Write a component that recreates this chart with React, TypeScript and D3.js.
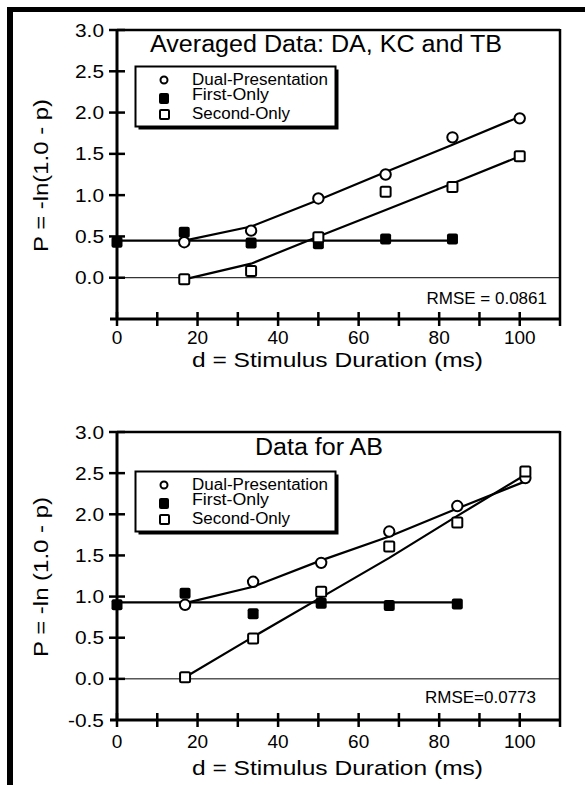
import React from "react";
import * as d3 from "d3";

// ---------- data ----------
const topDurations = [16.7, 33.3, 50, 66.7, 83.3, 100];
const topFirstDurations = [0, 16.7, 33.3, 50, 66.7, 83.3];
const topDual = [0.43, 0.57, 0.96, 1.25, 1.7, 1.93];
const topDualFit = [0.45, 0.62, 0.94, 1.28, 1.61, 1.95];
const topSecond = [-0.02, 0.08, 0.49, 1.04, 1.1, 1.47];
const topSecondFit = [-0.02, 0.17, 0.5, 0.82, 1.14, 1.47];
const topFirst = [0.43, 0.55, 0.42, 0.41, 0.47, 0.47];
const topFirstFit = [0.45, 0.45, 0.45, 0.45, 0.45, 0.45];

const botDurations = [16.9, 33.8, 50.7, 67.6, 84.5, 101.4];
const botFirstDurations = [0, 16.9, 33.8, 50.7, 67.6, 84.5];
const botDual = [0.9, 1.18, 1.41, 1.79, 2.1, 2.44];
const botDualFit = [0.92, 1.12, 1.44, 1.73, 2.07, 2.4];
const botSecond = [0.02, 0.49, 1.06, 1.61, 1.9, 2.52];
const botSecondFit = [0.02, 0.51, 0.99, 1.47, 1.98, 2.48];
const botFirst = [0.9, 1.04, 0.79, 0.92, 0.89, 0.91];
const botFirstFit = [0.93, 0.93, 0.93, 0.93, 0.93, 0.93];

const xMajorTicks = [0, 20, 40, 60, 80, 100];
const xMinorTicks = [10, 30, 50, 70, 90];
const yTicks = [-0.5, 0, 0.5, 1, 1.5, 2, 2.5, 3];
const legendLabels = ["Dual-Presentation", "First-Only", "Second-Only"];

const FONT = "'Liberation Sans', Arial, Helvetica, sans-serif";

type PanelProps = {
  top: number;
  bottom: number;
  title: string;
  titleX: number;
  titleDy: number;
  titleLen: number;
  yLabel: string;
  yLabelLen: number;
  rmse: string;
  rmseX: number;
  rmseDy: number;
  showMinusHalf: boolean;
  xTickDy: number;
  xLabelDy: number;
  legendTop: number;
  dur: number[];
  firstDur: number[];
  dual: number[];
  dualFit: number[];
  second: number[];
  secondFit: number[];
  first: number[];
  firstFit: number[];
};

function Panel(p: PanelProps) {
  const x = d3.scaleLinear().domain([0, 110]).range([117, 560]);
  const y = d3.scaleLinear().domain([-0.5, 3]).range([p.bottom, p.top]);
  const line = d3
    .line<[number, number]>()
    .x((d) => x(d[0]))
    .y((d) => y(d[1]));
  const zip = (a: number[], b: number[]) => a.map((v, i) => [v, b[i]] as [number, number]);
  const sq = 11;
  const lt = p.legendTop;
  return (
    <g>
      {/* zero line */}
      <line x1={x(0)} x2={x(110)} y1={y(0)} y2={y(0)} stroke="#000" strokeWidth={1} />
      {/* frame */}
      <line x1={x(0)} x2={x(110)} y1={p.top} y2={p.top} stroke="#000" strokeWidth={2.5} />
      <line x1={x(110)} x2={x(110)} y1={p.top - 1} y2={p.bottom + 7} stroke="#000" strokeWidth={2.5} />
      {/* axes */}
      <line x1={x(0)} x2={x(0)} y1={p.top - 1} y2={p.bottom + 1} stroke="#000" strokeWidth={3} />
      <line x1={110} x2={x(110)} y1={p.bottom} y2={p.bottom} stroke="#000" strokeWidth={3} />
      {yTicks.map((t) => (
        <g key={"yt" + t}>
          {t > -0.5 && (
            <line x1={109} x2={125} y1={y(t)} y2={y(t)} stroke="#000" strokeWidth={2.5} />
          )}
          {(t > -0.5 || p.showMinusHalf) && (
            <text
              x={104}
              y={y(t) + 6.5}
              textAnchor="end"
              fontSize={19}
              fontFamily={FONT}
              textLength={t < 0 ? 36 : 29}
              lengthAdjust="spacingAndGlyphs"
            >
              {t.toFixed(1)}
            </text>
          )}
        </g>
      ))}
      {[...xMajorTicks, ...xMinorTicks].map((t) => (
        <line key={"xt" + t} x1={x(t)} x2={x(t)} y1={p.bottom - 7} y2={p.bottom + 7} stroke="#000" strokeWidth={2.5} />
      ))}
      {xMajorTicks.map((t) => (
        <text key={"xl" + t} x={x(t)} y={p.bottom + p.xTickDy} textAnchor="middle" fontSize={19} fontFamily={FONT}>
          {t}
        </text>
      ))}
      {/* labels */}
      <text
        x={337.5}
        y={p.bottom + p.xLabelDy}
        textAnchor="middle"
        fontSize={21}
        fontFamily={FONT}
        textLength={291}
        lengthAdjust="spacingAndGlyphs"
      >
        d = Stimulus Duration (ms)
      </text>
      <text
        transform={`translate(48,${(p.top + p.bottom) / 2 + 1}) rotate(-90)`}
        textAnchor="middle"
        fontSize={19.5}
        fontFamily={FONT}
        textLength={p.yLabelLen}
        lengthAdjust="spacingAndGlyphs"
      >
        {p.yLabel}
      </text>
      <text
        x={p.titleX}
        y={p.top + p.titleDy}
        textAnchor="middle"
        fontSize={23}
        fontFamily={FONT}
        textLength={p.titleLen}
        lengthAdjust="spacingAndGlyphs"
      >
        {p.title}
      </text>
      <text x={p.rmseX} y={y(0) + p.rmseDy} textAnchor="end" fontSize={17} fontFamily={FONT}>
        {p.rmse}
      </text>
      {/* legend */}
      <rect x={138.5} y={lt + 3.5} width={200} height={60} fill="#000" />
      <rect x={135.5} y={lt + 0.5} width={200} height={60} fill="#fff" stroke="#000" strokeWidth={2} />
      <circle cx={164} cy={lt + 14} r={3.5} fill="#fff" stroke="#000" strokeWidth={2} />
      <rect x={159} y={lt + 27} width={10} height={11} rx={2} fill="#000" />
      <rect x={160} y={lt + 44} width={9} height={9} rx={1} fill="#fff" stroke="#000" strokeWidth={2} />
      {legendLabels.map((l, i) => (
        <text
          key={l}
          x={192}
          y={lt + [18.5, 34, 53][i]}
          fontSize={16}
          fontFamily={FONT}
          textLength={[136, 77, 98][i]}
          lengthAdjust="spacingAndGlyphs"
        >
          {l}
        </text>
      ))}
      {/* fit lines */}
      <path d={line(zip(p.firstDur, p.firstFit)) || ""} fill="none" stroke="#000" strokeWidth={2.2} />
      <path d={line(zip(p.dur, p.dualFit)) || ""} fill="none" stroke="#000" strokeWidth={2.2} />
      <path d={line(zip(p.dur, p.secondFit)) || ""} fill="none" stroke="#000" strokeWidth={2.2} />
      {/* markers */}
      {p.first.map((v, i) => (
        <rect key={"f" + i} x={x(p.firstDur[i]) - sq / 2} y={y(v) - sq / 2} width={sq} height={sq} rx={2} fill="#000" />
      ))}
      {p.dual.map((v, i) => (
        <circle key={"d" + i} cx={x(p.dur[i])} cy={y(v)} r={5.2} fill="#fff" stroke="#000" strokeWidth={2} />
      ))}
      {p.second.map((v, i) => (
        <rect
          key={"s" + i}
          x={x(p.dur[i]) - (sq - 1) / 2}
          y={y(v) - (sq - 1) / 2}
          width={sq - 1}
          height={sq - 1}
          rx={1.5}
          fill="#fff"
          stroke="#000"
          strokeWidth={2}
        />
      ))}
    </g>
  );
}

export default function App() {
  return (
    <svg
      width={585}
      height={785}
      style={{ position: "absolute", left: 0, top: 0, background: "#fff" }}
    >
      <rect x={0} y={0} width={585} height={785} fill="#fff" />
      {/* outer border */}
      <rect x={7} y={7} width={578} height={5} fill="#000" />
      <rect x={7} y={7} width={6} height={778} fill="#000" />
      <Panel
        top={30}
        bottom={319}
        title="Averaged Data: DA, KC and TB"
        titleX={326}
        titleDy={22}
        titleLen={352}
        yLabel="P = -ln(1.0 - p)"
        yLabelLen={153}
        rmse="RMSE = 0.0861"
        rmseX={547}
        rmseDy={26}
        showMinusHalf={false}
        xTickDy={25}
        xLabelDy={48}
        legendTop={66}
        dur={topDurations}
        firstDur={topFirstDurations}
        dual={topDual}
        dualFit={topDualFit}
        second={topSecond}
        secondFit={topSecondFit}
        first={topFirst}
        firstFit={topFirstFit}
      />
      <Panel
        top={432}
        bottom={720}
        title="Data for AB"
        titleX={319}
        titleDy={23}
        titleLen={128}
        yLabel="P = -ln (1.0 - p)"
        yLabelLen={160}
        rmse="RMSE=0.0773"
        rmseX={536}
        rmseDy={24}
        showMinusHalf={true}
        xTickDy={28}
        xLabelDy={55}
        legendTop={471}
        dur={botDurations}
        firstDur={botFirstDurations}
        dual={botDual}
        dualFit={botDualFit}
        second={botSecond}
        secondFit={botSecondFit}
        first={botFirst}
        firstFit={botFirstFit}
      />
    </svg>
  );
}
